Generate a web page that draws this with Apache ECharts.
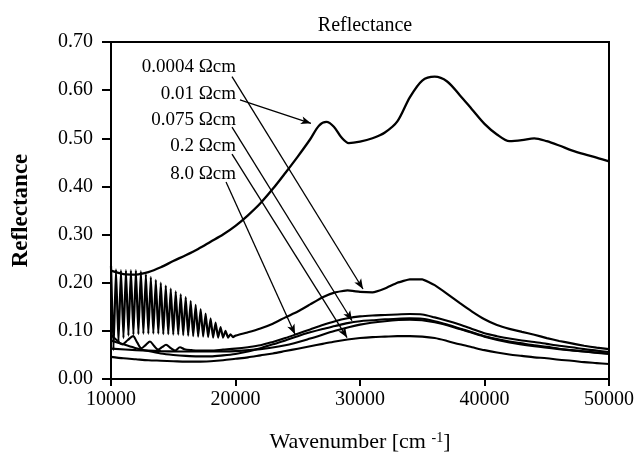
<!DOCTYPE html>
<html>
<head>
<meta charset="utf-8">
<script src="https://cdn.jsdelivr.net/npm/echarts@6/dist/echarts.min.js"></script>
<style>
  html, body { margin: 0; padding: 0; background: #fff; }
  #chart { width: 638px; height: 458px; }
</style>
</head>
<body>
<div id="chart"></div>
<script>
// values: [wavenumber cm-1, reflectance]
var curveA = [[10000,0.225],[11000,0.218],[12000,0.217],[13000,0.222],[14000,0.232],[15000,0.245],[16000,0.257],[17000,0.270],[18000,0.285],[19000,0.300],[20000,0.318],[21000,0.340],[22000,0.365],[23000,0.395],[24000,0.428],[25000,0.462],[26000,0.498],[26700,0.526],[27300,0.534],[27900,0.524],[28500,0.502],[29100,0.490],[30000,0.493],[31000,0.500],[32000,0.512],[33000,0.535],[34000,0.585],[35000,0.620],[36000,0.628],[37000,0.618],[38000,0.590],[39000,0.560],[40000,0.530],[41000,0.508],[42000,0.494],[43000,0.496],[44000,0.500],[45000,0.494],[46000,0.485],[47000,0.475],[48000,0.467],[49000,0.460],[50000,0.452]];

var curveB = [[10000,0.235],[10200,0.060],[10400,0.228],[10600,0.075],[10800,0.226],[11000,0.085],[11200,0.226],[11400,0.090],[11600,0.226],[11800,0.092],[12000,0.226],[12200,0.093],[12400,0.224],[12600,0.094],[12800,0.218],[13000,0.094],[13200,0.212],[13400,0.094],[13600,0.206],[13800,0.094],[14000,0.200],[14200,0.093],[14400,0.194],[14600,0.093],[14800,0.188],[15000,0.092],[15200,0.182],[15400,0.092],[15600,0.176],[15800,0.091],[16000,0.170],[16200,0.090],[16400,0.162],[16600,0.089],[16800,0.154],[17000,0.088],[17200,0.145],[17400,0.088],[17600,0.136],[17800,0.087],[18000,0.126],[18200,0.086],[18400,0.117],[18600,0.086],[18800,0.108],[19000,0.086],[19200,0.100],[19400,0.086],[19600,0.093],[19800,0.087],[20000,0.090],[21000,0.097],[22000,0.105],[23000,0.115],[24000,0.128],[25000,0.140],[26000,0.155],[27000,0.170],[28000,0.180],[29000,0.184],[30000,0.181],[31000,0.180],[32000,0.188],[33000,0.200],[34000,0.207],[35000,0.207],[36000,0.195],[37000,0.177],[38000,0.158],[39000,0.140],[40000,0.124],[41000,0.112],[42000,0.104],[43000,0.098],[44000,0.092],[45000,0.085],[46000,0.079],[47000,0.074],[48000,0.069],[49000,0.065],[50000,0.062]];

var curveC = [[10000,0.092],[10400,0.082],[10900,0.072],[11350,0.081],[11770,0.089],[12100,0.076],[12450,0.064],[12800,0.071],[13130,0.078],[13450,0.069],[13780,0.061],[14100,0.066],[14420,0.071],[14800,0.064],[15140,0.059],[15540,0.066],[15900,0.062],[16500,0.060],[17000,0.059],[18000,0.059],[19000,0.061],[20000,0.063],[21000,0.066],[22000,0.070],[23000,0.077],[24000,0.085],[25000,0.094],[26000,0.103],[27000,0.112],[28000,0.120],[29000,0.126],[30000,0.130],[31000,0.132],[32000,0.133],[33000,0.134],[34000,0.135],[35000,0.134],[36000,0.128],[37000,0.121],[38000,0.113],[39000,0.104],[40000,0.095],[41000,0.089],[42000,0.084],[43000,0.080],[44000,0.077],[45000,0.073],[46000,0.069],[47000,0.066],[48000,0.062],[49000,0.059],[50000,0.056]];

var curveD = [[10000,0.080],[11000,0.072],[12000,0.064],[13000,0.058],[14000,0.053],[15000,0.050],[16000,0.048],[17000,0.047],[18000,0.047],[19000,0.049],[20000,0.052],[21000,0.057],[22000,0.064],[23000,0.072],[24000,0.080],[25000,0.089],[26000,0.097],[27000,0.104],[28000,0.110],[29000,0.116],[30000,0.120],[31000,0.122],[32000,0.124],[33000,0.125],[34000,0.126],[35000,0.125],[36000,0.120],[37000,0.113],[38000,0.105],[39000,0.097],[40000,0.089],[41000,0.083],[42000,0.078],[43000,0.074],[44000,0.070],[45000,0.067],[46000,0.063],[47000,0.060],[48000,0.057],[49000,0.055],[50000,0.053]];

var curveE = [[10000,0.063],[12000,0.060],[14000,0.058],[16000,0.057],[18000,0.057],[20000,0.058],[22000,0.062],[24000,0.070],[26000,0.084],[28000,0.100],[30000,0.113],[32000,0.120],[34000,0.123],[36000,0.118],[38000,0.104],[40000,0.088],[42000,0.076],[44000,0.068],[46000,0.062],[48000,0.057],[50000,0.052]];

var curveF = [[10000,0.046],[11000,0.043],[12000,0.041],[13000,0.039],[14000,0.038],[15000,0.037],[16000,0.036],[17000,0.036],[18000,0.037],[19000,0.039],[20000,0.042],[21000,0.045],[22000,0.049],[23000,0.053],[24000,0.058],[25000,0.063],[26000,0.068],[27000,0.073],[28000,0.078],[29000,0.082],[30000,0.085],[31000,0.087],[32000,0.088],[33000,0.089],[34000,0.089],[35000,0.088],[36000,0.085],[37000,0.079],[38000,0.072],[39000,0.066],[40000,0.060],[41000,0.055],[42000,0.051],[43000,0.048],[44000,0.045],[45000,0.043],[46000,0.040],[47000,0.038],[48000,0.035],[49000,0.033],[50000,0.031]];

// arrow labels and where each arrow starts / ends (data units)
var arrowLabels = ['0.0004 \u03A9cm', '0.01 \u03A9cm', '0.075 \u03A9cm', '0.2 \u03A9cm', '8.0 \u03A9cm'];
var arrowFrom = [[19720,0.628],[20360,0.580],[19720,0.523],[19720,0.467],[19240,0.409]];
var arrowTo = [[30240,0.187],[26060,0.531],[29360,0.121],[28960,0.086],[24780,0.093]];

var FONT = 'Liberation Serif';

var chart = echarts.init(document.getElementById('chart'));

function lineSeries(data, w, smooth) {
  return {
    type: 'line',
    data: data,
    showSymbol: false,
    smooth: smooth,
    lineStyle: { color: '#000', width: w },
    silent: true,
    z: 3
  };
}

var arrows = arrowFrom.map(function(p, i) {
  return [{ coord: p }, { coord: arrowTo[i] }];
});

var series = [
  lineSeries(curveA, 2.3, 0.3),
  lineSeries(curveB, 2.2, 0.1),
  lineSeries(curveC, 2.1, 0.3),
  lineSeries(curveD, 2.1, 0.3),
  lineSeries(curveE, 2.1, 0.3),
  lineSeries(curveF, 2.1, 0.3)
];
series[0].markLine = {
  silent: true,
  symbol: ['none', 'arrow'],
  symbolSize: [6, 10],
  label: { show: false },
  lineStyle: { color: '#000', width: 1.3, type: 'solid' },
  data: arrows,
  animation: false
};

chart.setOption({
  animation: false,
  backgroundColor: '#fff',
  title: {
    text: 'Reflectance',
    left: 360,
    top: 11,
    textAlign: 'center',
    textStyle: { fontFamily: FONT, fontSize: 20, fontWeight: 'normal', color: '#000' }
  },
  grid: {
    left: 111, right: 29, top: 42, bottom: 76,
    show: true, borderColor: '#000', borderWidth: 2, backgroundColor: 'transparent'
  },
  xAxis: {
    type: 'value',
    min: 10000, max: 50000, interval: 10000,
    name: 'Wavenumber [cm {sup|-1}]',
    nameLocation: 'middle',
    nameGap: 52,
    nameTextStyle: {
      fontFamily: FONT, fontSize: 22, color: '#000',
      rich: { sup: { fontFamily: FONT, fontSize: 14, verticalAlign: 'top', color: '#000' } }
    },
    axisLine: { onZero: false, lineStyle: { color: '#000', width: 2 } },
    axisTick: { inside: false, length: 7, lineStyle: { color: '#000', width: 2 } },
    axisLabel: {
      fontFamily: FONT, fontSize: 20, color: '#000', margin: 11,
      formatter: function(v) { return String(v); }
    },
    splitLine: { show: false }
  },
  yAxis: {
    type: 'value',
    min: 0, max: 0.7, interval: 0.1,
    name: 'Reflectance',
    nameLocation: 'middle',
    nameGap: 78,
    nameTextStyle: { fontFamily: FONT, fontSize: 23, fontWeight: 'bold', color: '#000' },
    axisLine: { lineStyle: { color: '#000', width: 2 } },
    axisTick: { inside: false, length: 9, lineStyle: { color: '#000', width: 2 } },
    axisLabel: {
      fontFamily: FONT, fontSize: 20, color: '#000', margin: 18,
      formatter: function(v) { return v.toFixed(2); }
    },
    splitLine: { show: false }
  },
  graphic: arrowLabels.map(function(t, i) {
    var tops = [68, 95, 121, 147, 175];
    return {
      type: 'text',
      right: 638 - 236,
      top: tops[i] - 10,
      style: { text: t, font: '19px "' + FONT + '"', fill: '#000', textAlign: 'right' }
    };
  }),
  series: series
});
</script>
</body>
</html>
